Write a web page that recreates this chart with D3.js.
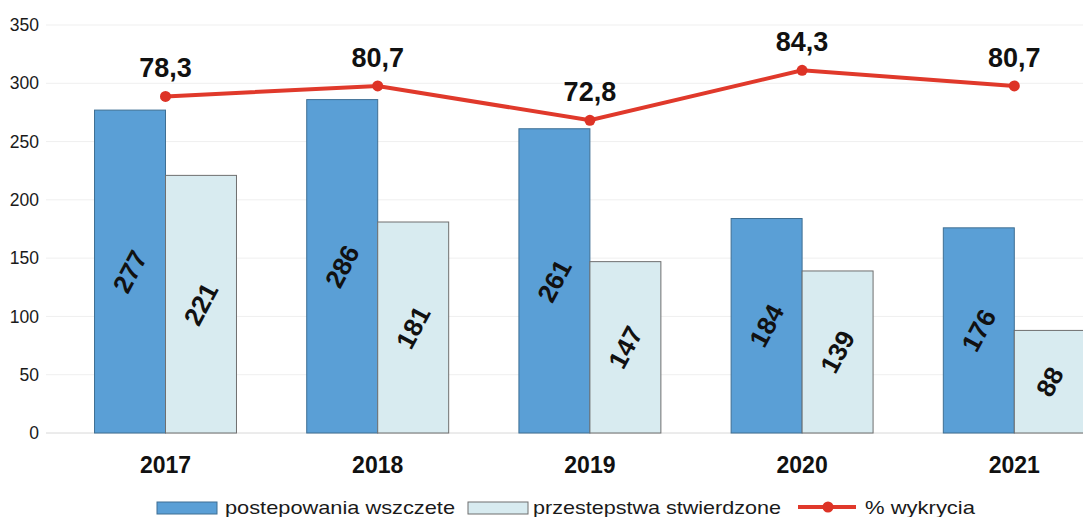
<!DOCTYPE html>
<html><head><meta charset="utf-8">
<script src="https://cdn.jsdelivr.net/npm/d3@7"></script>
<style>
html,body{margin:0;padding:0;background:#fff;}
svg{display:block;font-family:"Liberation Sans",Arial,sans-serif;}
</style></head>
<body><svg id="chart" width="1083" height="517"></svg>
<script>
const years = ["2017","2018","2019","2020","2021"];
const wszczete = [277, 286, 261, 184, 176];
const stwierdzone = [221, 181, 147, 139, 88];
const wykrycie = [78.3, 80.7, 72.8, 84.3, 80.7];
const yTicks = [0, 50, 100, 150, 200, 250, 300, 350];
const seriesNames = ["postepowania wszczete", "przestepstwa stwierdzone", "% wykrycia"];

const svg = d3.select("#chart");
const W = 1083, H = 517;

const x = d3.scaleBand().domain(years).range([59.4, 1120.4]).paddingInner(0.331).paddingOuter(0.1655);
const xs = d3.scaleBand().domain([0,1]).range([0, x.bandwidth()]).padding(0);
const y = d3.scaleLinear().domain([0, 350]).range([433, 25]);
const y2 = d3.scaleLinear().domain([0, 100]).range([437, 2]);

const fmt = v => d3.format(".1f")(v).replace(".", ",");

// gridlines
svg.append("g").selectAll("line").data(yTicks).join("line")
  .attr("x1", 46).attr("x2", W).attr("y1", d => y(d)).attr("y2", d => y(d))
  .attr("stroke", d => d === 0 ? "#d8d8d8" : "#efefef").attr("stroke-width", 1);

// y axis labels
const yAxis = d3.axisLeft(y).tickValues(yTicks).tickSize(0).tickPadding(0);
const ga = svg.append("g").attr("transform", "translate(39,0)").call(yAxis);
ga.select(".domain").remove();
ga.selectAll("text").attr("font-size", 17.5).attr("fill", "#1a1a1a")
  .attr("font-family", "Liberation Sans, Arial, sans-serif");

const colors = ["#5a9fd6", "#d8ebf0"];
const strokes = ["#3f6f93", "#6f6f6f"];
const series = [wszczete, stwierdzone];

series.forEach((arr, si) => {
  const g = svg.append("g");
  g.selectAll("rect").data(arr).join("rect")
    .attr("x", (d, i) => x(years[i]) + xs(si))
    .attr("width", xs.bandwidth())
    .attr("y", d => y(d))
    .attr("height", d => y(0) - y(d))
    .attr("fill", colors[si]).attr("stroke", strokes[si]).attr("stroke-width", 1);
  g.selectAll("text").data(arr).join("text")
    .attr("transform", (d, i) => `translate(${x(years[i]) + xs(si) + xs.bandwidth()/2},${(y(d)+y(0))/2}) rotate(-62)`)
    .attr("text-anchor", "middle").attr("dominant-baseline", "central")
    .attr("font-size", 26).attr("font-weight", "bold").attr("fill", "#111")
    .text(d => d);
});

// line
const cx = i => x(years[i]) + x.bandwidth()/2;
const line = d3.line().x((d, i) => cx(i)).y(d => y2(d));
svg.append("path").datum(wykrycie).attr("d", line)
  .attr("fill", "none").attr("stroke", "#e0392b").attr("stroke-width", 4);
svg.append("g").selectAll("circle").data(wykrycie).join("circle")
  .attr("cx", (d, i) => cx(i)).attr("cy", d => y2(d)).attr("r", 5.5).attr("fill", "#dd3326");
svg.append("g").selectAll("text").data(wykrycie).join("text")
  .attr("x", (d, i) => cx(i)).attr("y", d => y2(d) - 19)
  .attr("text-anchor", "middle").attr("font-size", 27).attr("font-weight", "bold").attr("fill", "#111")
  .text(d => fmt(d));

// x labels
const xAxis = d3.axisBottom(x).tickSize(0).tickPadding(0);
const gx = svg.append("g").attr("transform", "translate(0,457)").call(xAxis);
gx.select(".domain").remove();
gx.selectAll("text").attr("font-size", 23).attr("font-weight", "bold").attr("fill", "#111")
  .attr("font-family", "Liberation Sans, Arial, sans-serif").attr("dy", "0.71em");

// legend
const lg = svg.append("g");
const legX = [157, 468, 798];
const txtX = [225, 533, 865];
const txtW = [230, 248, 110];
[0,1].forEach(i => {
  lg.append("rect").attr("x", legX[i]).attr("y", 502).attr("width", 60).attr("height", 12)
    .attr("fill", colors[i]).attr("stroke", strokes[i]).attr("stroke-width", 1);
});
lg.append("line").attr("x1", legX[2]).attr("x2", legX[2] + 58).attr("y1", 507).attr("y2", 507)
  .attr("stroke", "#e0392b").attr("stroke-width", 4);
lg.append("circle").attr("cx", legX[2] + 30).attr("cy", 507).attr("r", 5.5).attr("fill", "#dd3326");
seriesNames.forEach((n, i) => {
  lg.append("text").attr("x", txtX[i]).attr("y", 514)
    .attr("font-size", 19).attr("fill", "#1a1a1a")
    .attr("textLength", txtW[i]).attr("lengthAdjust", "spacingAndGlyphs")
    .text(n);
});
</script></body></html>
